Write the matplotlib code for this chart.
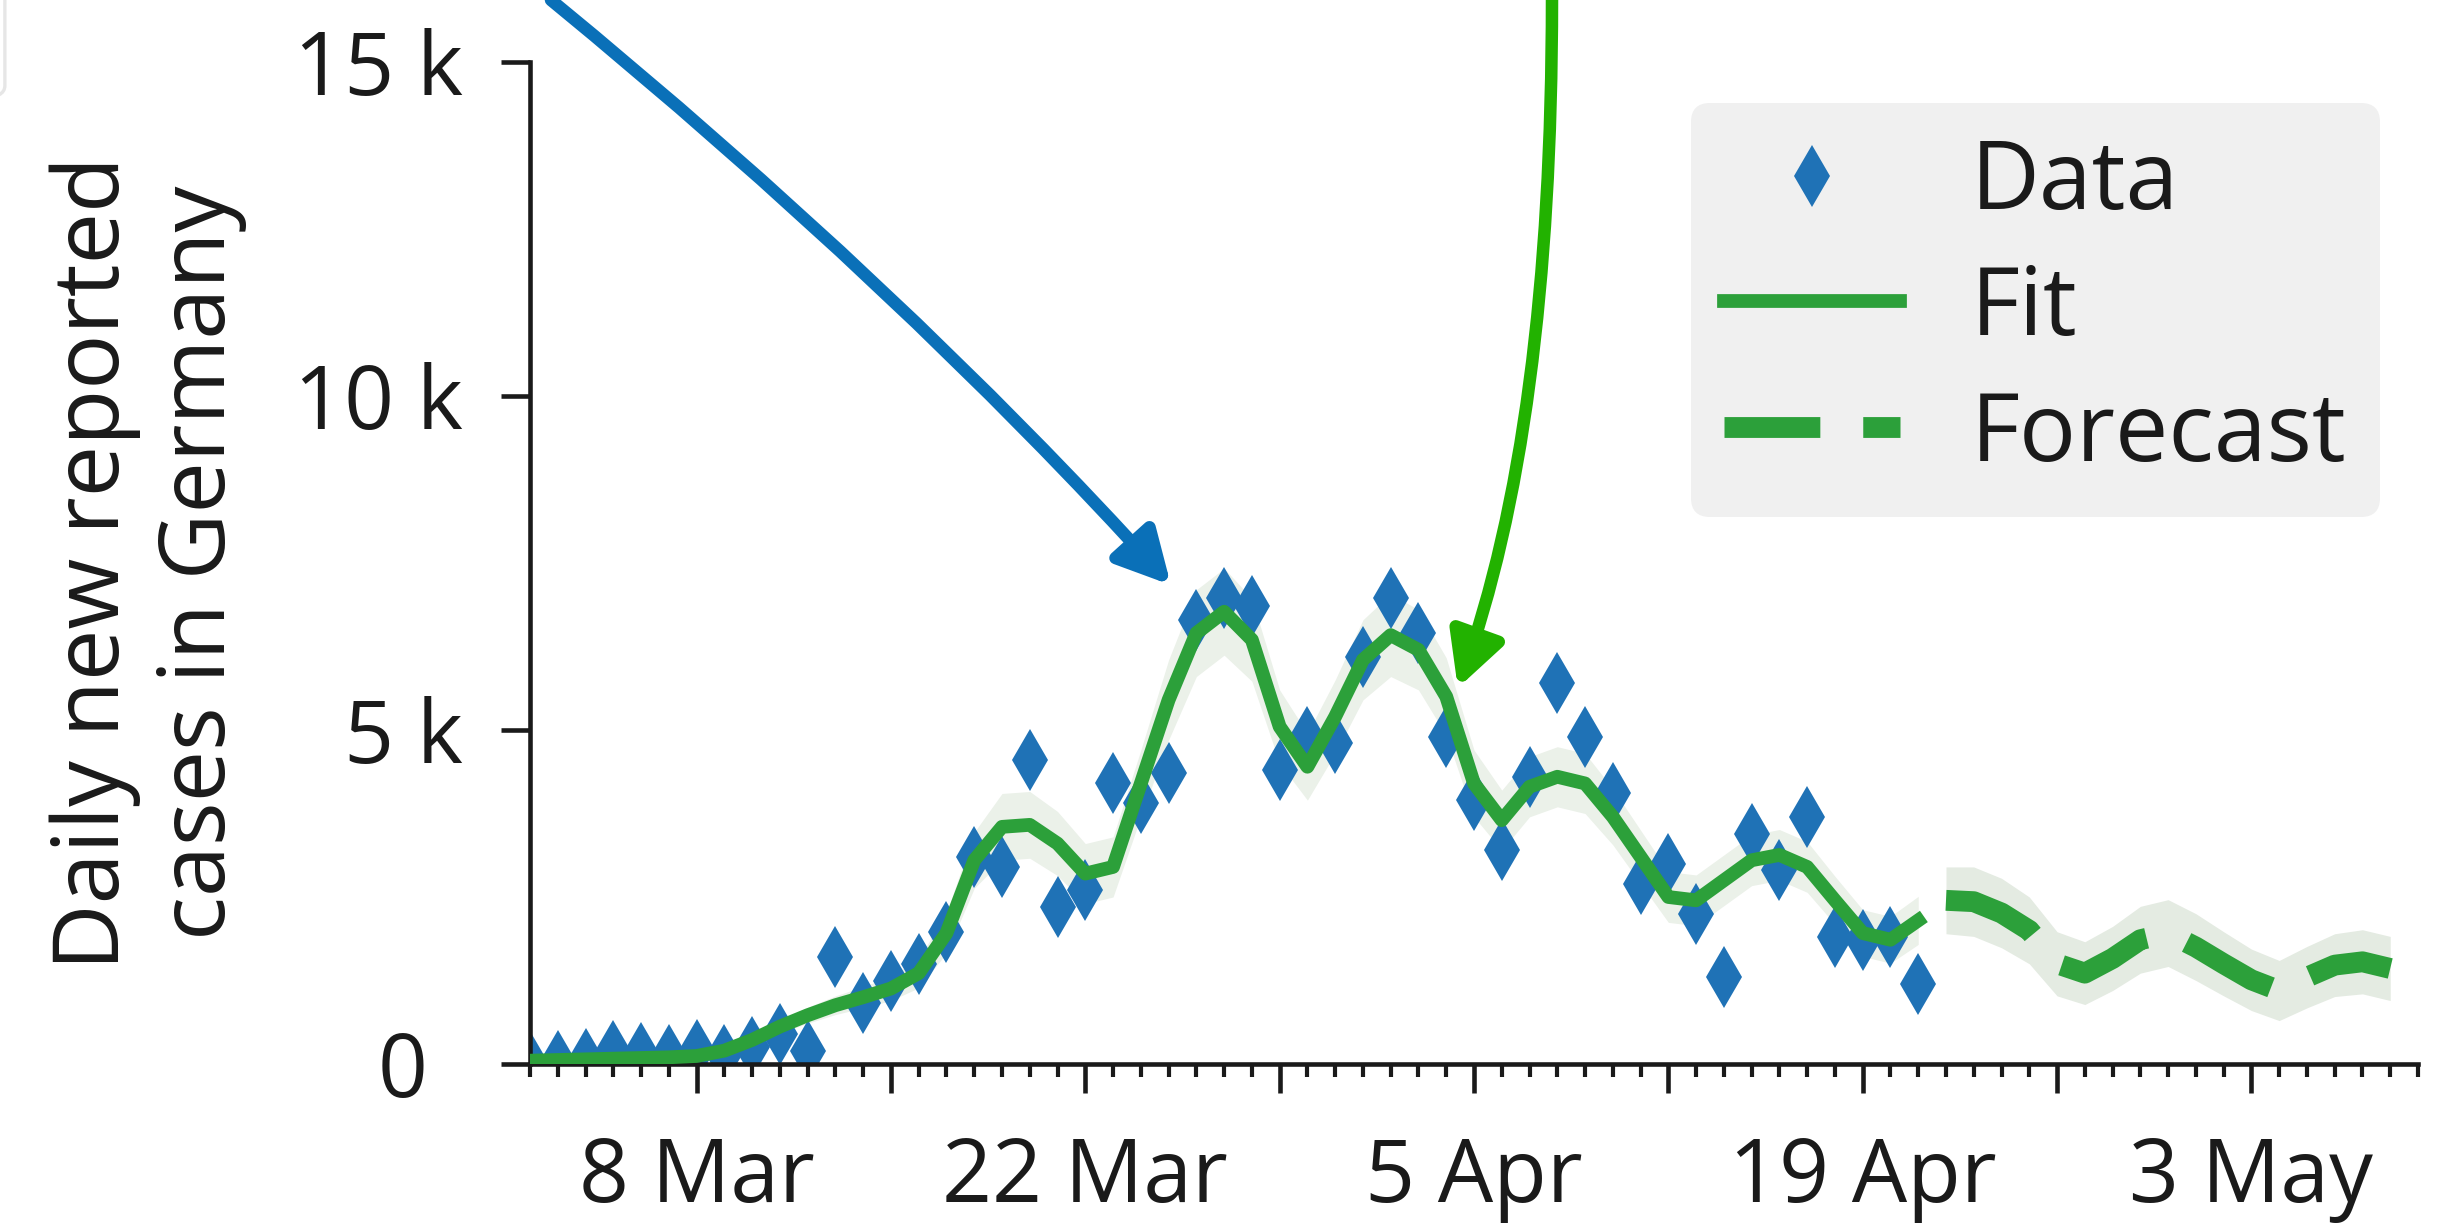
import pandas as pd
import matplotlib
matplotlib.use("Agg")
import matplotlib.pyplot as plt
import matplotlib.dates as mdates
from matplotlib.patches import FancyArrowPatch, FancyBboxPatch
from matplotlib.path import Path
from matplotlib.transforms import IdentityTransform, ScaledTranslation

plt.rcParams["font.family"] = ["Open Sans", "DejaVu Sans"]
plt.rcParams["lines.scale_dashes"] = False

W, H, DPI = 2438, 1225, 300

# daily new reported cases in Germany, thousands, 2 Mar .. 21 Apr 2020
data_start = "2020-03-02"
cases_k = [0.03, 0.05, 0.08, 0.19, 0.17, 0.13, 0.21, 0.13, 0.26, 0.45,
           0.2, 1.6, 0.91, 1.24, 1.5, 1.98, 3.1, 2.95, 4.55, 2.35,
           2.6, 4.2, 3.9, 4.35, 6.65, 6.97, 6.85, 4.4, 4.9, 4.8,
           6.1, 6.97, 6.45, 4.9, 3.95, 3.2, 4.3, 5.7, 4.9, 4.05,
           2.7, 3.0, 2.25, 1.3, 3.45, 2.9, 3.7, 1.9, 1.85, 1.9,
           1.2]

fit_k = [0.05, 0.06, 0.07, 0.08, 0.09, 0.1, 0.12, 0.2, 0.36, 0.56,
         0.73, 0.88, 1.0, 1.13, 1.36, 1.96, 3.05, 3.55, 3.58, 3.3,
         2.85, 2.95, 4.2, 5.45, 6.45, 6.77, 6.35, 5.05, 4.45, 5.2,
         6.05, 6.42, 6.2, 5.5, 4.2, 3.65, 4.15, 4.3, 4.2, 3.7,
         3.1, 2.5, 2.45, 2.75, 3.05, 3.13, 2.95, 2.45, 1.96, 1.86,
         2.15]
fit_band_k = [0.03, 0.03, 0.03, 0.04, 0.04, 0.04, 0.05, 0.06, 0.08, 0.1,
              0.12, 0.14, 0.16, 0.18, 0.22, 0.3, 0.42, 0.5, 0.5, 0.48,
              0.45, 0.45, 0.5, 0.6, 0.65, 0.65, 0.62, 0.55, 0.5, 0.55,
              0.6, 0.62, 0.6, 0.58, 0.5, 0.45, 0.45, 0.45, 0.45, 0.42,
              0.4, 0.38, 0.38, 0.38, 0.38, 0.38, 0.38, 0.36, 0.35, 0.35,
              0.36]

forecast_start = "2020-04-22"
forecast_k = [2.45, 2.43, 2.26, 2.0, 1.5, 1.36, 1.58, 1.86, 1.96, 1.75,
              1.5, 1.26, 1.1, 1.3, 1.48, 1.53, 1.43]
forecast_band_k = [0.5, 0.52, 0.52, 0.5, 0.48, 0.47, 0.48, 0.5, 0.5, 0.5,
                   0.48, 0.46, 0.45, 0.46, 0.47, 0.48, 0.48]

week_ticks = ["2020-03-08", "2020-03-15", "2020-03-22", "2020-03-29", "2020-04-05",
              "2020-04-12", "2020-04-19", "2020-04-26", "2020-05-03"]
week_labels = ["8 Mar", "", "22 Mar", "", "5 Apr", "", "19 Apr", "", "3 May"]
y_ticks = [0, 5, 10, 15]
y_labels = ["0", "5 k", "10 k", "15 k"]

x_range = ("2020-03-02", "2020-05-09")

BLUE = "#1f72b6"
GREEN = "#2ca03a"


def main():
    d_data = pd.date_range(data_start, periods=len(cases_k), freq="D")
    d_fc = pd.date_range(forecast_start, periods=len(forecast_k), freq="D")

    fig = plt.figure(figsize=(W / DPI, H / DPI), dpi=DPI)
    ax = fig.add_axes([530 / W, 1 - 1064 / H, (2418 - 530) / W, (1064 - 62) / H])

    lo = [f - b for f, b in zip(fit_k, fit_band_k)]
    hi = [f + b for f, b in zip(fit_k, fit_band_k)]
    ax.fill_between(d_data, lo, hi, color="#ebf1e9", lw=0, zorder=1)
    lo = [f - b for f, b in zip(forecast_k, forecast_band_k)]
    hi = [f + b for f, b in zip(forecast_k, forecast_band_k)]
    ax.fill_between(d_fc, lo, hi, color="#e4ebe2", lw=0, zorder=1)

    ax.plot(d_data, cases_k, ls="none", marker="d", ms=10.4, mew=0,
            color=BLUE, zorder=2, label="Data")
    ax.plot(d_data, fit_k, color=GREEN, lw=3.3, zorder=3, label="Fit")
    ax.plot(d_fc, forecast_k, color=GREEN, lw=5.0, dashes=(23, 10.3),
            zorder=3, label="Forecast")

    ax.set_xlim(pd.Timestamp(x_range[0]), pd.Timestamp(x_range[1]))
    ax.set_ylim(0, 15)

    for s in ("top", "right"):
        ax.spines[s].set_visible(False)
    for s in ("left", "bottom"):
        ax.spines[s].set_linewidth(1.1)
        ax.spines[s].set_color("#1a1a1a")

    ax.set_xticks(pd.to_datetime(week_ticks))
    ax.set_xticklabels(week_labels)
    ax.xaxis.set_minor_locator(mdates.DayLocator())
    ax.set_yticks(y_ticks)
    ax.set_yticklabels(y_labels)
    ax.tick_params(axis="x", which="major", length=7, width=1.1, pad=10,
                   labelsize=21, color="#1a1a1a", labelcolor="#1a1a1a")
    ax.tick_params(axis="x", which="minor", length=3, width=1.0, color="#1a1a1a")
    ax.tick_params(axis="y", which="major", length=7, width=1.1, pad=9,
                   labelsize=21, color="#1a1a1a", labelcolor="#1a1a1a")

    # "0" keeps the width of the unit separator
    zero = ax.yaxis.get_major_ticks()[0].label1
    zero.set_transform(zero.get_transform() + ScaledTranslation(-8.6 / 72, 0, fig.dpi_scale_trans))

    ax.set_ylabel("Daily new reported\ncases in Germany", fontsize=22, color="#1a1a1a")
    ax.yaxis.set_label_coords(-0.15, 0.5)

    leg = ax.legend(loc="upper right", bbox_to_anchor=(0.98, 0.959), borderaxespad=0,
                    fontsize=22.8, frameon=True, fancybox=True, facecolor="#f0f0f0",
                    edgecolor="none", framealpha=1, handlelength=1.85,
                    handletextpad=0.75, labelspacing=0.32, borderpad=0.35,
                    numpoints=1)
    for t in leg.get_texts():
        t.set_color("#1a1a1a")

    # pointer arrows coming in from above the panel
    def to_px(fx, fy):
        return fig.transFigure.transform((fx, fy))

    def data_px(date, val):
        return ax.transData.transform((mdates.date2num(pd.Timestamp(date)), val))

    arrows = [
        (to_px(551 / W, 1.0), to_px(901 / W, 1 - 287 / H), data_px("2020-03-25 02:00", 7.17), "#0a70b8"),
        (to_px(1552 / W, 1.0), to_px(1552 / W, 1 - 427 / H), data_px("2020-04-04 10:00", 5.63), "#22b200"),
    ]
    for p0, c, p1, col in arrows:
        path = Path([p0, c, p1], [Path.MOVETO, Path.CURVE3, Path.CURVE3])
        arr = FancyArrowPatch(path=path, arrowstyle="-|>,head_length=10.5,head_width=5.5",
                              mutation_scale=1, lw=3.0, color=col,
                              transform=IdentityTransform(), zorder=10)
        fig.add_artist(arr)

    # faint edge of a neighbouring panel box
    fig.add_artist(FancyBboxPatch((-0.05, 0.92), 0.052, 0.2, boxstyle="round,pad=0,rounding_size=0.01",
                                  transform=fig.transFigure, fc="none", ec="#e6e6e6", lw=0.8))

    fig.savefig("out.png", dpi=DPI)


if __name__ == "__main__":
    main()
